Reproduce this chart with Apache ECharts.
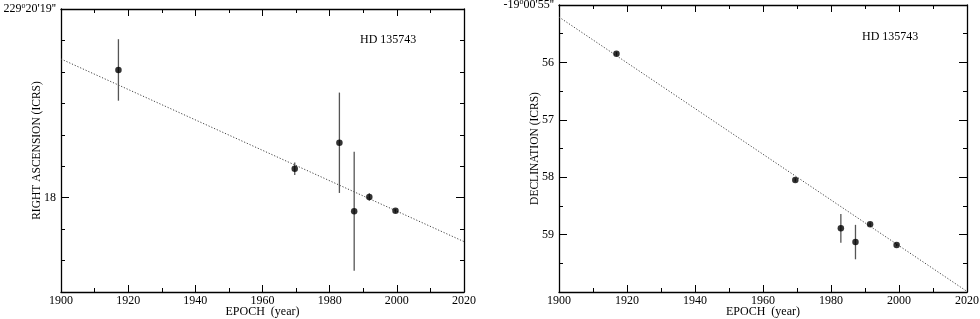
<!DOCTYPE html>
<html><head><meta charset="utf-8">
<script src="https://cdn.jsdelivr.net/npm/echarts@6/dist/echarts.min.js"></script>
<style>html,body{margin:0;padding:0;background:#fff}#c{width:980px;height:319px}</style>
</head><body><div id="c"></div>
<script>
// ---- data ----
const raYears = [1917.1, 1969.6, 1982.9, 1987.3, 1991.8, 1999.6];
const raVals  = [18.677, 18.153, 18.291, 17.928, 18.003, 17.930];
const raErr   = [0.163, 0.033, 0.266, 0.316, 0.020, 0.010];
const raFit   = [[1900, 18.735], [2020, 17.767]];

const decYears = [1916.9, 1969.5, 1982.9, 1987.2, 1991.5, 1999.3];
const decVals  = [55.85, 58.05, 58.89, 59.13, 58.82, 59.18];
const decErr   = [0.03, 0.03, 0.25, 0.30, 0.03, 0.02];
const decFit   = [[1900, 55.21], [2020, 59.99]];

const xTickLabels = [1900, 1920, 1940, 1960, 1980, 2000, 2020];
const raTickLabels = {18: '18', 19: '229{s|o}20\'19\'\''};
const decTickLabels = {55: '-19{s|o}00\'55\'\'', 56: '56', 57: '57', 58: '58', 59: '59'};
const starName = 'HD 135743';

// ---- styling ----
const FF = 'Liberation Serif';
const BLACK = '#000';
const lineW = 1.3;

function xAx(grid, top) {
  return {
    type: 'value', gridIndex: grid, min: 1900, max: 2020, interval: 20,
    position: top ? 'top' : 'bottom',
    axisLine: {show: true, lineStyle: {color: BLACK, width: lineW}},
    axisTick: {show: true, inside: true, length: 7, lineStyle: {color: BLACK, width: 1}},
    minorTick: {show: true, splitNumber: 2, length: 4, lineStyle: {color: BLACK, width: 1}},
    splitLine: {show: false}, minorSplitLine: {show: false},
    axisLabel: top ? {show: false} : {show: true, color: BLACK, fontFamily: FF, fontSize: 12, margin: 3,
      customValues: xTickLabels, formatter: v => String(Math.round(v))},
    name: top ? '' : 'EPOCH  (year)', nameLocation: 'middle', nameGap: 14, nameMoveOverlap: false,
    nameTextStyle: {color: BLACK, fontFamily: FF, fontSize: 12}
  };
}

const rich = {s: {fontSize: 8, verticalAlign: 'top', padding: [0, 0, 6, 0], fontFamily: FF, color: BLACK}};

function raY(side, overlay) {
  const a = {
    type: 'value', gridIndex: 0, min: 17.5, max: 19, interval: 0.5, position: side,
    axisLine: {show: !overlay, lineStyle: {color: BLACK, width: lineW}},
    splitLine: {show: false}, minorSplitLine: {show: false},
    axisLabel: {show: false}, nameMoveOverlap: false
  };
  if (overlay) {
    a.axisTick = {show: true, inside: true, length: 8, customValues: [18], lineStyle: {color: BLACK, width: 1}};
    a.minorTick = {show: false};
  } else {
    a.axisTick = {show: true, inside: true, length: 4, lineStyle: {color: BLACK, width: 1}};
    a.minorTick = {show: true, splitNumber: 3, length: 4, lineStyle: {color: BLACK, width: 1}};
    if (side === 'left') {
      a.axisLabel = {show: true, color: BLACK, fontFamily: FF, fontSize: 12, margin: 5,
        customValues: [18, 19], formatter: v => raTickLabels[Math.round(v)] || '', rich: rich};
      a.name = 'RIGHT ASCENSION (ICRS)';
      a.nameLocation = 'middle'; a.nameRotate = 90; a.nameGap = 18;
      a.nameTextStyle = {color: BLACK, fontFamily: FF, fontSize: 11.5};
    }
  }
  return a;
}

function decY(side) {
  const a = {
    type: 'value', gridIndex: 1, min: 55, max: 60, interval: 1, inverse: true, position: side,
    axisLine: {show: true, lineStyle: {color: BLACK, width: lineW}},
    axisTick: {show: true, inside: true, length: 8, lineStyle: {color: BLACK, width: 1}},
    minorTick: {show: true, splitNumber: 2, length: 4, lineStyle: {color: BLACK, width: 1}},
    splitLine: {show: false}, minorSplitLine: {show: false},
    axisLabel: {show: false}, nameMoveOverlap: false
  };
  if (side === 'left') {
    a.axisLabel = {show: true, color: BLACK, fontFamily: FF, fontSize: 12, margin: 5,
      formatter: v => decTickLabels[Math.round(v)] || '', rich: rich};
    a.name = 'DECLINATION (ICRS)';
    a.nameLocation = 'middle'; a.nameRotate = 90; a.nameGap = 18;
    a.nameTextStyle = {color: BLACK, fontFamily: FF, fontSize: 11.5};
  }
  return a;
}

function errBars(xi, yi, years, vals, errs) {
  return {
    type: 'custom', xAxisIndex: xi, yAxisIndex: yi, z: 3, silent: true,
    data: years.map((y, i) => [y, vals[i] - errs[i], vals[i] + errs[i]]),
    encode: {x: 0, y: [1, 2]},
    renderItem: (params, api) => {
      const a = api.coord([api.value(0), api.value(1)]);
      const b = api.coord([api.value(0), api.value(2)]);
      return {type: 'line', shape: {x1: a[0], y1: a[1], x2: b[0], y2: b[1]},
        style: {stroke: '#555', lineWidth: 1.3}};
    }
  };
}

function fitLine(xi, yi, pts) {
  return {type: 'line', xAxisIndex: xi, yAxisIndex: yi, data: pts, symbol: 'none', z: 2,
    lineStyle: {color: '#444', width: 1, type: [1.2, 1.8]}, silent: true};
}

function pts(xi, yi, years, vals) {
  return {type: 'scatter', xAxisIndex: xi, yAxisIndex: yi, z: 4, symbol: 'circle', symbolSize: 6.5,
    itemStyle: {color: BLACK}, data: years.map((y, i) => [y, vals[i]]), silent: true};
}

const chart = echarts.init(document.getElementById('c'), null, {renderer: 'canvas'});
chart.setOption({
  animation: false,
  backgroundColor: '#fff',
  title: [
    {text: starName, left: 360, top: 34, padding: 0, textStyle: {color: BLACK, fontFamily: FF, fontSize: 12, fontWeight: 'normal'}},
    {text: starName, left: 862, top: 31, padding: 0, textStyle: {color: BLACK, fontFamily: FF, fontSize: 12, fontWeight: 'normal'}}
  ],
  grid: [
    {left: 61, top: 9, width: 403, height: 283, containLabel: false, outerBoundsMode: 'none'},
    {left: 559, top: 5, width: 408, height: 287, containLabel: false, outerBoundsMode: 'none'}
  ],
  xAxis: [
    Object.assign(xAx(0, false), {gridIndex: 0}),
    Object.assign(xAx(0, true), {gridIndex: 0}),
    Object.assign(xAx(1, false), {gridIndex: 1}),
    Object.assign(xAx(1, true), {gridIndex: 1})
  ],
  yAxis: [
    raY('left', false), raY('left', true), raY('right', false), raY('right', true),
    decY('left'), decY('right')
  ],
  series: [
    fitLine(0, 0, raFit), errBars(0, 0, raYears, raVals, raErr), pts(0, 0, raYears, raVals),
    fitLine(2, 4, decFit), errBars(2, 4, decYears, decVals, decErr), pts(2, 4, decYears, decVals)
  ]
});
</script></body></html>
